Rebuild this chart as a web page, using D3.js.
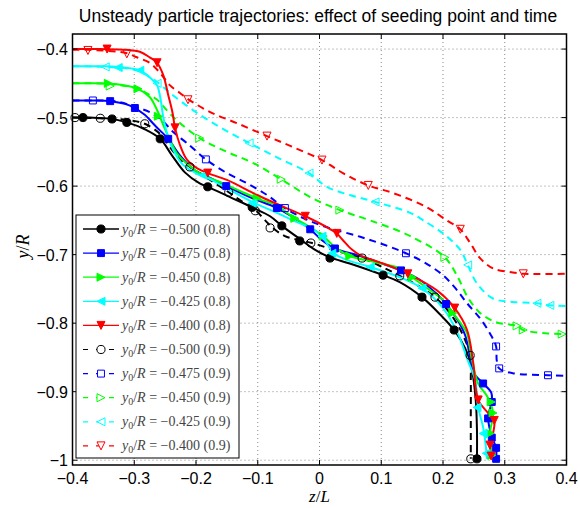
<!DOCTYPE html>
<html>
<head>
<meta charset="utf-8">
<script src="https://cdn.jsdelivr.net/npm/d3@7"></script>
<style>
  body { margin: 0; background: #fff; }
  text { font-family: "Liberation Sans", Arial, sans-serif; }
</style>
</head>
<body>
<script>
//seeding points and release times
var seedValues = ["−0.500", "−0.475", "−0.450", "−0.425", "−0.400"];
var releaseTimes = ["0.8", "0.9"];
var seedColors = ["#000000", "#0000ff", "#00ff00", "#00ffff", "#ff0000"];
var seedMarkers = ["circle", "square", "right", "left", "down"];

var xTicks = [-0.4, -0.3, -0.2, -0.1, 0, 0.1, 0.2, 0.3, 0.4];
var yTicks = [-1, -0.9, -0.8, -0.7, -0.6, -0.5, -0.4];

//trajectories released at t = 0.8 (solid, filled markers)
var black8 = [[-0.4,-0.5],[-0.372,-0.5],[-0.339,-0.5015],[-0.312,-0.507],[-0.283,-0.517],[-0.258,-0.531],[-0.239,-0.555],[-0.218,-0.580],[-0.194,-0.596],[-0.181,-0.601],[-0.145,-0.616],[-0.109,-0.631],[-0.080,-0.644],[-0.061,-0.658],[-0.032,-0.677],[-0.007,-0.693],[0.017,-0.704],[0.049,-0.713],[0.103,-0.730],[0.130,-0.740],[0.166,-0.762],[0.195,-0.787],[0.218,-0.810],[0.236,-0.837],[0.247,-0.869],[0.253,-0.912],[0.255,-0.956],[0.255,-0.998]];
var black8Marks = [[-0.383,-0.5],[-0.336,-0.502],[-0.312,-0.507],[-0.258,-0.531],[-0.181,-0.601],[-0.109,-0.631],[-0.061,-0.658],[-0.032,-0.680],[0.017,-0.705],[0.103,-0.730],[0.166,-0.762],[0.218,-0.810],[0.255,-0.998]];

var blue8 = [[-0.4,-0.475],[-0.364,-0.475],[-0.339,-0.476],[-0.315,-0.480],[-0.299,-0.486],[-0.283,-0.496],[-0.266,-0.512],[-0.245,-0.531],[-0.226,-0.555],[-0.202,-0.577],[-0.177,-0.588],[-0.151,-0.600],[-0.113,-0.616],[-0.069,-0.632],[-0.040,-0.647],[-0.015,-0.663],[0.004,-0.679],[0.025,-0.691],[0.066,-0.702],[0.098,-0.712],[0.132,-0.723],[0.163,-0.737],[0.187,-0.755],[0.205,-0.772],[0.224,-0.796],[0.236,-0.818],[0.244,-0.850],[0.250,-0.873],[0.265,-0.888],[0.278,-0.901],[0.279,-0.915],[0.273,-0.937],[0.279,-0.966],[0.286,-0.982],[0.286,-0.998]];
var blue8Marks = [[-0.339,-0.476],[-0.299,-0.486],[-0.245,-0.531],[-0.151,-0.600],[-0.069,-0.632],[-0.015,-0.663],[0.025,-0.691],[0.132,-0.723],[0.205,-0.772],[0.265,-0.888],[0.279,-0.915],[0.273,-0.939],[0.279,-0.967],[0.286,-0.982],[0.286,-0.998]];

var green8 = [[-0.4,-0.45],[-0.355,-0.450],[-0.315,-0.453],[-0.294,-0.458],[-0.275,-0.470],[-0.263,-0.489],[-0.253,-0.511],[-0.242,-0.533],[-0.231,-0.552],[-0.210,-0.571],[-0.189,-0.584],[-0.156,-0.596],[-0.129,-0.607],[-0.101,-0.618],[-0.069,-0.629],[-0.040,-0.647],[-0.015,-0.660],[0.006,-0.673],[0.025,-0.689],[0.049,-0.702],[0.090,-0.711],[0.130,-0.720],[0.150,-0.733],[0.179,-0.752],[0.200,-0.766],[0.216,-0.785],[0.231,-0.803],[0.239,-0.815],[0.247,-0.854],[0.257,-0.888],[0.273,-0.909],[0.281,-0.931],[0.276,-0.961],[0.279,-0.990],[0.279,-0.998]];
var green8Marks = [[-0.342,-0.450],[-0.294,-0.458],[-0.261,-0.498],[-0.101,-0.618],[-0.040,-0.647],[0.006,-0.673],[0.049,-0.702],[0.150,-0.733],[0.216,-0.785],[0.278,-0.915],[0.281,-0.931],[0.276,-0.961],[0.279,-0.993]];

var cyan8 = [[-0.4,-0.425],[-0.355,-0.425],[-0.326,-0.426],[-0.291,-0.431],[-0.275,-0.441],[-0.263,-0.453],[-0.258,-0.470],[-0.253,-0.499],[-0.247,-0.523],[-0.237,-0.547],[-0.221,-0.569],[-0.198,-0.582],[-0.177,-0.590],[-0.156,-0.600],[-0.109,-0.623],[-0.069,-0.639],[-0.043,-0.650],[-0.015,-0.661],[0.004,-0.673],[0.017,-0.691],[0.025,-0.699],[0.045,-0.708],[0.082,-0.718],[0.130,-0.733],[0.166,-0.749],[0.200,-0.778],[0.224,-0.815],[0.240,-0.854],[0.252,-0.883],[0.257,-0.923],[0.265,-0.952],[0.270,-0.985],[0.271,-0.998]];
var cyan8Marks = [[-0.326,-0.427],[-0.291,-0.431],[-0.189,-0.584],[-0.109,-0.625],[0.004,-0.673],[0.020,-0.698],[0.082,-0.718],[0.166,-0.749],[0.255,-0.923],[0.265,-0.961],[0.270,-0.990]];

var red8 = [[-0.4,-0.4],[-0.355,-0.4],[-0.312,-0.401],[-0.291,-0.404],[-0.275,-0.412],[-0.263,-0.420],[-0.253,-0.438],[-0.245,-0.467],[-0.238,-0.493],[-0.234,-0.515],[-0.226,-0.540],[-0.215,-0.561],[-0.198,-0.574],[-0.181,-0.581],[-0.150,-0.591],[-0.101,-0.613],[-0.064,-0.628],[-0.023,-0.644],[0.012,-0.660],[0.028,-0.669],[0.038,-0.679],[0.053,-0.693],[0.066,-0.701],[0.106,-0.714],[0.143,-0.728],[0.190,-0.752],[0.219,-0.778],[0.239,-0.810],[0.249,-0.858],[0.257,-0.912],[0.273,-0.931],[0.283,-0.942],[0.281,-0.961],[0.276,-0.978],[0.278,-0.998]];
var red8Marks = [[-0.344,-0.4],[-0.263,-0.420],[-0.234,-0.515],[-0.181,-0.581],[-0.023,-0.644],[0.028,-0.669],[0.143,-0.728],[0.219,-0.778],[0.257,-0.912],[0.283,-0.942],[0.276,-0.978],[0.278,-0.994]];

//trajectories released at t = 0.9 (dashed, open markers)
var black9 = [[-0.4,-0.5],[-0.355,-0.501],[-0.307,-0.504],[-0.283,-0.509],[-0.258,-0.524],[-0.239,-0.547],[-0.221,-0.565],[-0.210,-0.572],[-0.177,-0.591],[-0.147,-0.609],[-0.121,-0.625],[-0.104,-0.635],[-0.088,-0.650],[-0.077,-0.660],[-0.056,-0.673],[-0.032,-0.679],[-0.012,-0.683],[0.033,-0.696],[0.069,-0.705],[0.106,-0.720],[0.130,-0.731],[0.163,-0.747],[0.187,-0.762],[0.211,-0.785],[0.231,-0.815],[0.244,-0.847],[0.245,-0.883],[0.245,-0.942],[0.245,-0.998]];
var black9Marks = [[-0.396,-0.5],[-0.355,-0.501],[-0.283,-0.509],[-0.210,-0.572],[-0.147,-0.609],[-0.104,-0.636],[-0.080,-0.661],[-0.014,-0.683],[0.069,-0.705],[0.130,-0.731],[0.187,-0.762],[0.244,-0.847],[0.245,-0.998]];

var blue9 = [[-0.4,-0.475],[-0.367,-0.475],[-0.331,-0.476],[-0.296,-0.485],[-0.275,-0.492],[-0.255,-0.504],[-0.237,-0.521],[-0.215,-0.537],[-0.184,-0.561],[-0.150,-0.581],[-0.117,-0.596],[-0.085,-0.613],[-0.056,-0.632],[-0.023,-0.648],[0.012,-0.660],[0.066,-0.674],[0.106,-0.686],[0.140,-0.698],[0.171,-0.712],[0.200,-0.730],[0.221,-0.750],[0.239,-0.771],[0.260,-0.793],[0.276,-0.815],[0.286,-0.834],[0.287,-0.854],[0.291,-0.866],[0.313,-0.873],[0.370,-0.876],[0.401,-0.877]];
var blue9Marks = [[-0.367,-0.475],[-0.184,-0.561],[-0.056,-0.632],[0.140,-0.698],[0.286,-0.834],[0.291,-0.866],[0.370,-0.876]];

var green9 = [[-0.4,-0.45],[-0.339,-0.451],[-0.294,-0.458],[-0.275,-0.467],[-0.263,-0.474],[-0.237,-0.499],[-0.194,-0.530],[-0.150,-0.550],[-0.108,-0.566],[-0.062,-0.590],[-0.015,-0.616],[0.033,-0.635],[0.082,-0.650],[0.147,-0.673],[0.203,-0.704],[0.224,-0.733],[0.240,-0.762],[0.260,-0.785],[0.287,-0.799],[0.320,-0.804],[0.330,-0.810],[0.370,-0.815],[0.401,-0.816]];
var green9Marks = [[-0.339,-0.454],[-0.194,-0.530],[-0.062,-0.590],[0.033,-0.635],[0.203,-0.704],[0.320,-0.804],[0.330,-0.810],[0.393,-0.816]];

var cyan9 = [[-0.4,-0.425],[-0.347,-0.426],[-0.296,-0.431],[-0.275,-0.441],[-0.263,-0.448],[-0.242,-0.464],[-0.205,-0.489],[-0.161,-0.514],[-0.114,-0.537],[-0.069,-0.558],[-0.017,-0.581],[0.012,-0.601],[0.049,-0.613],[0.090,-0.623],[0.147,-0.639],[0.168,-0.650],[0.200,-0.669],[0.228,-0.693],[0.240,-0.715],[0.255,-0.742],[0.281,-0.764],[0.313,-0.769],[0.352,-0.771],[0.373,-0.774],[0.401,-0.775]];
var cyan9Marks = [[-0.347,-0.426],[-0.263,-0.450],[-0.114,-0.537],[-0.017,-0.581],[0.090,-0.623],[0.240,-0.715],[0.352,-0.771],[0.373,-0.774]];

var red9 = [[-0.4,-0.401],[-0.375,-0.401],[-0.312,-0.406],[-0.296,-0.412],[-0.275,-0.420],[-0.258,-0.435],[-0.242,-0.453],[-0.226,-0.464],[-0.213,-0.473],[-0.177,-0.492],[-0.134,-0.508],[-0.085,-0.527],[-0.043,-0.543],[0.004,-0.562],[0.038,-0.581],[0.079,-0.599],[0.119,-0.610],[0.174,-0.631],[0.206,-0.650],[0.228,-0.663],[0.244,-0.683],[0.260,-0.705],[0.281,-0.720],[0.313,-0.726],[0.330,-0.728],[0.401,-0.728]];
var red9Marks = [[-0.375,-0.402],[-0.312,-0.407],[-0.213,-0.474],[-0.085,-0.527],[0.004,-0.562],[0.079,-0.599],[0.228,-0.663],[0.330,-0.728]];

var lines8 = [black8, blue8, green8, cyan8, red8];
var marks8 = [black8Marks, blue8Marks, green8Marks, cyan8Marks, red8Marks];
var lines9 = [black9, blue9, green9, cyan9, red9];
var marks9 = [black9Marks, blue9Marks, green9Marks, cyan9Marks, red9Marks];

//frame
var width = 580, height = 508;
var plotLeft = 72.5, plotRight = 566.5, plotTop = 34, plotBottom = 465;

var xScale = d3.scaleLinear().domain([-0.4, 0.4]).range([plotLeft, plotRight]);
var yScale = d3.scaleLinear().domain([-1.007, -0.378]).range([plotBottom, plotTop]);

var svg = d3.select("body").append("svg")
    .attr("width", width)
    .attr("height", height);

svg.append("defs").append("clipPath").attr("id", "plotClip")
  .append("rect")
    .attr("x", plotLeft).attr("y", plotTop)
    .attr("width", plotRight - plotLeft).attr("height", plotBottom - plotTop);

//dotted grid
var grid = svg.append("g").attr("class", "grid");
grid.selectAll(".vgrid")
    .data(xTicks.slice(1, -1))
    .enter().append("line")
    .attr("x1", function(d){ return xScale(d); })
    .attr("x2", function(d){ return xScale(d); })
    .attr("y1", plotTop).attr("y2", plotBottom)
    .attr("stroke", "#888").attr("stroke-width", 1)
    .attr("stroke-dasharray", "1,3");
grid.selectAll(".hgrid")
    .data(yTicks)
    .enter().append("line")
    .attr("x1", plotLeft).attr("x2", plotRight)
    .attr("y1", function(d){ return yScale(d); })
    .attr("y2", function(d){ return yScale(d); })
    .attr("stroke", "#888").attr("stroke-width", 1)
    .attr("stroke-dasharray", "1,3");

//marker shapes
function markerPath(type, s){
    if(type == "circle") return d3.symbol().type(d3.symbolCircle).size(s * s * 0.8)();
    if(type == "square") return d3.symbol().type(d3.symbolSquare).size(s * s * 0.75)();
    var h = s / 2;
    if(type == "down") return "M" + (-h) + "," + (-h) + "L" + h + "," + (-h) + "L0," + h + "Z";
    if(type == "right") return "M" + (-h) + "," + (-h) + "L" + h + ",0L" + (-h) + "," + h + "Z";
    if(type == "left") return "M" + h + "," + (-h) + "L" + (-h) + ",0L" + h + "," + h + "Z";
}

var lineGen = d3.line()
    .x(function(d){ return xScale(d[0]); })
    .y(function(d){ return yScale(d[1]); })
    .curve(d3.curveCatmullRom.alpha(0.5));

var plot = svg.append("g").attr("clip-path", "url(#plotClip)");

function drawSeries(lineData, markData, i, dashed){
    var color = seedColors[i];
    plot.append("path")
        .datum(lineData)
        .attr("d", lineGen)
        .attr("fill", "none")
        .attr("stroke", color)
        .attr("stroke-width", 2)
        .attr("stroke-dasharray", dashed ? "7,5" : null);
    svg.append("g").selectAll("path")
        .data(markData)
        .enter().append("path")
        .attr("transform", function(d){ return "translate(" + xScale(d[0]) + "," + yScale(d[1]) + ")"; })
        .attr("d", markerPath(seedMarkers[i], 8))
        .attr("fill", dashed ? "none" : color)
        .attr("stroke", color)
        .attr("stroke-width", 1);
}

//dashed set first, solid set on top
for (var i = 0; i < 5; i++) drawSeries(lines9[i], marks9[i], i, true);
for (var j = 0; j < 5; j++) drawSeries(lines8[j], marks8[j], j, false);

//axes box with inward ticks
var axes = svg.append("g").attr("class", "axes");
axes.append("rect")
    .attr("x", plotLeft).attr("y", plotTop)
    .attr("width", plotRight - plotLeft).attr("height", plotBottom - plotTop)
    .attr("fill", "none").attr("stroke", "#000").attr("stroke-width", 1.5);

var tickLen = 5;
xTicks.forEach(function(t){
    var x = xScale(t);
    axes.append("line").attr("x1", x).attr("x2", x).attr("y1", plotBottom).attr("y2", plotBottom - tickLen).attr("stroke", "#000");
    axes.append("line").attr("x1", x).attr("x2", x).attr("y1", plotTop).attr("y2", plotTop + tickLen).attr("stroke", "#000");
    axes.append("text")
        .attr("x", x).attr("y", plotBottom + 19)
        .attr("text-anchor", "middle")
        .attr("font-size", 16)
        .text(t == 0 ? "0" : d3.format(".1f")(t).replace("-", "−"));
});
yTicks.forEach(function(t){
    var y = yScale(t);
    axes.append("line").attr("x1", plotLeft).attr("x2", plotLeft + tickLen).attr("y1", y).attr("y2", y).attr("stroke", "#000");
    axes.append("line").attr("x1", plotRight).attr("x2", plotRight - tickLen).attr("y1", y).attr("y2", y).attr("stroke", "#000");
    axes.append("text")
        .attr("x", plotLeft - 4.5).attr("y", y + 6)
        .attr("text-anchor", "end")
        .attr("font-size", 16)
        .text(t == -1 ? "−1" : d3.format(".1f")(t).replace("-", "−"));
});

//title and axis labels
svg.append("text")
    .attr("x", 318).attr("y", 22)
    .attr("text-anchor", "middle")
    .attr("font-size", 17.5)
    .text("Unsteady particle trajectories: effect of seeding point and time");

var xLabel = svg.append("text")
    .attr("x", (plotLeft + plotRight) / 2).attr("y", 502)
    .attr("text-anchor", "middle")
    .attr("font-size", 17)
    .style("font-family", "'Liberation Serif', 'DejaVu Serif', serif");
xLabel.append("tspan").attr("font-style", "italic").text("z");
xLabel.append("tspan").text("/");
xLabel.append("tspan").attr("font-style", "italic").text("L");

var yLabel = svg.append("text")
    .attr("transform", "translate(29," + ((plotTop + plotBottom) / 2 - 3) + ") rotate(-90)")
    .attr("text-anchor", "middle")
    .attr("font-size", 18)
    .style("font-family", "'Liberation Serif', 'DejaVu Serif', serif");
yLabel.append("tspan").attr("font-style", "italic").text("y");
yLabel.append("tspan").text("/");
yLabel.append("tspan").attr("font-style", "italic").text("R");

//legend
var legendX = 76, legendY = 215, legendW = 163, legendH = 243, rowGap = 24.1;
var legend = svg.append("g").attr("class", "legend");
legend.append("rect")
    .attr("x", legendX).attr("y", legendY)
    .attr("width", legendW).attr("height", legendH)
    .attr("fill", "#fff").attr("stroke", "#000").attr("stroke-width", 1);

var legendItems = [];
releaseTimes.forEach(function(t, ti){
    seedValues.forEach(function(v, vi){
        legendItems.push({ seed: v, time: t, idx: vi, dashed: ti == 1 });
    });
});

legendItems.forEach(function(item, k){
    var y = legendY + 14 + k * rowGap;
    var color = seedColors[item.idx];
    legend.append("line")
        .attr("x1", legendX + 7).attr("x2", legendX + 43)
        .attr("y1", y).attr("y2", y)
        .attr("stroke", color).attr("stroke-width", item.dashed ? 1.2 : 1.3)
        .attr("stroke-dasharray", item.dashed ? "5,8" : null);
    legend.append("path")
        .attr("transform", "translate(" + (legendX + 25) + "," + y + ")")
        .attr("d", markerPath(seedMarkers[item.idx], 8))
        .attr("fill", item.dashed ? "#fff" : color)
        .attr("stroke", color);
    var txt = legend.append("text")
        .attr("x", legendX + 46).attr("y", y + 4.5)
        .attr("font-size", 14)
        .attr("fill", "#444")
        .style("font-family", "'Liberation Serif', 'DejaVu Serif', serif");
    txt.append("tspan").attr("font-style", "italic").text("y");
    txt.append("tspan").attr("font-size", 10).attr("dy", 3).text("0");
    txt.append("tspan").attr("dy", -3).text("/");
    txt.append("tspan").attr("font-style", "italic").text("R");
    txt.append("tspan").text(" = " + item.seed + " (" + item.time + ")");
});
</script>
</body>
</html>
